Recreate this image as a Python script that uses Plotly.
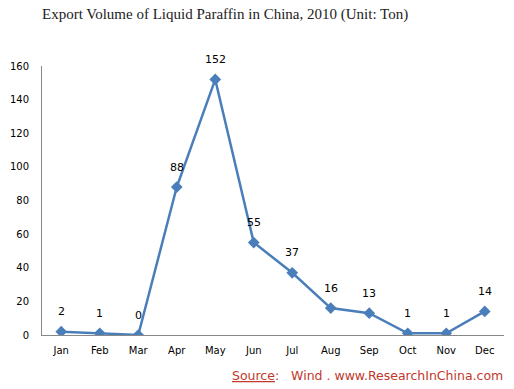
import plotly.graph_objects as go

months = ["Jan", "Feb", "Mar", "Apr", "May", "Jun", "Jul", "Aug", "Sep", "Oct", "Nov", "Dec"]
volume = [2, 1, 0, 88, 152, 55, 37, 16, 13, 1, 1, 14]
y_ticks = [0, 20, 40, 60, 80, 100, 120, 140, 160]

color = "#4a7ebb"
fig = go.Figure()
fig.add_trace(go.Scatter(
    x=months, y=volume, mode="lines+markers",
    line=dict(color=color, width=2.5),
    marker=dict(symbol="diamond", size=9, color=color),
    hoverinfo="skip",
))
for m, v in zip(months, volume):
    fig.add_annotation(x=m, y=v, text=str(v), showarrow=False, yshift=20,
                       font=dict(family="DejaVu Sans", size=11, color="#000"))

fig.add_annotation(xref="paper", yref="paper", x=-0.005, y=1.193, xanchor="left", yanchor="middle",
                   text="Export Volume of Liquid Paraffin in China, 2010 (Unit: Ton)", showarrow=False,
                   font=dict(family="Liberation Serif", size=15, color="#222"))
fig.add_annotation(xref="paper", yref="paper", x=1.002, y=-0.149, xanchor="right", yanchor="middle",
                   text="<u>Source</u>:   Wind . www.ResearchInChina.com", showarrow=False,
                   font=dict(family="DejaVu Sans", size=12.5, color="#c0392b"))

fig.update_layout(
    width=514, height=389,
    margin=dict(l=38, r=10, t=66, b=54),
    paper_bgcolor="white", plot_bgcolor="white",
    showlegend=False,
    xaxis=dict(type="category", range=[-0.5, 11.5], showgrid=False, showline=True,
               linecolor="#888", linewidth=1, ticks="", ticklabelstandoff=6,
               tickfont=dict(family="DejaVu Sans", size=10, color="#000"), zeroline=False),
    yaxis=dict(range=[0, 160], tickvals=y_ticks, showgrid=False, showline=True,
               linecolor="#888", linewidth=1, ticks="", ticklabelstandoff=10,
               tickfont=dict(family="DejaVu Sans", size=10, color="#000"), zeroline=False),
)
fig.write_html("out.html", config={"displayModeBar": False},
               post_script="document.body.style.margin='0';")
